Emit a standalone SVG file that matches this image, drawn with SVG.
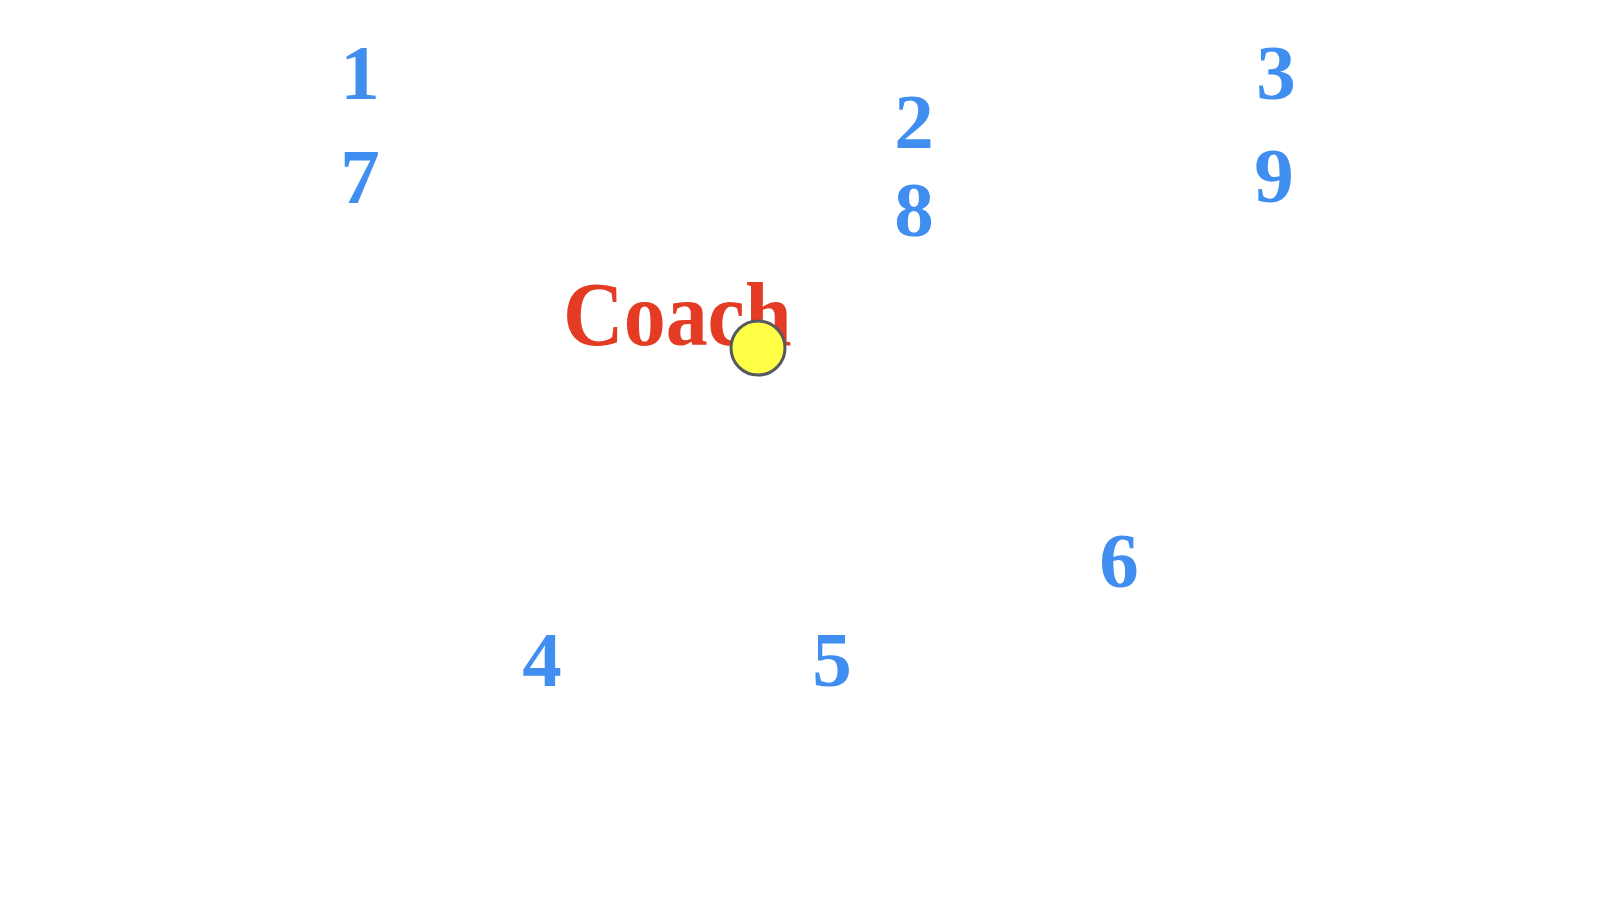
<svg xmlns="http://www.w3.org/2000/svg" width="1600" height="900" viewBox="0 0 1600 900">
<style>
.num{font-family:"Liberation Serif","DejaVu Serif",serif;font-weight:bold;font-size:79px;fill:#3f8ef0;text-anchor:middle}
.coach{font-family:"Liberation Serif","DejaVu Serif",serif;font-weight:bold;font-size:84px;fill:#e33b24}
</style>
<rect width="1600" height="900" fill="#ffffff"/>
<g id="connectors"></g>
<g id="n1"><text class="num" x="360" y="99">1</text></g>
<g id="n7"><text class="num" x="360" y="203">7</text></g>
<g id="n2"><text class="num" x="914" y="148">2</text></g>
<g id="n8"><text class="num" x="914" y="236">8</text></g>
<g id="n3"><text class="num" x="1276" y="99">3</text></g>
<g id="n9"><text class="num" x="1274" y="202">9</text></g>
<g id="n6"><text class="num" x="1119" y="587">6</text></g>
<g id="n4"><text class="num" x="542" y="686">4</text></g>
<g id="n5"><text class="num" x="832" y="686">5</text></g>
<g id="coach"><text class="coach" x="563" y="345" transform="translate(0 345) scale(1 1.08) translate(0 -345)">Coach</text></g>
<g id="ball"><circle cx="758" cy="348" r="27" fill="#ffff45" stroke="#555a5e" stroke-width="3"/></g>
</svg>
